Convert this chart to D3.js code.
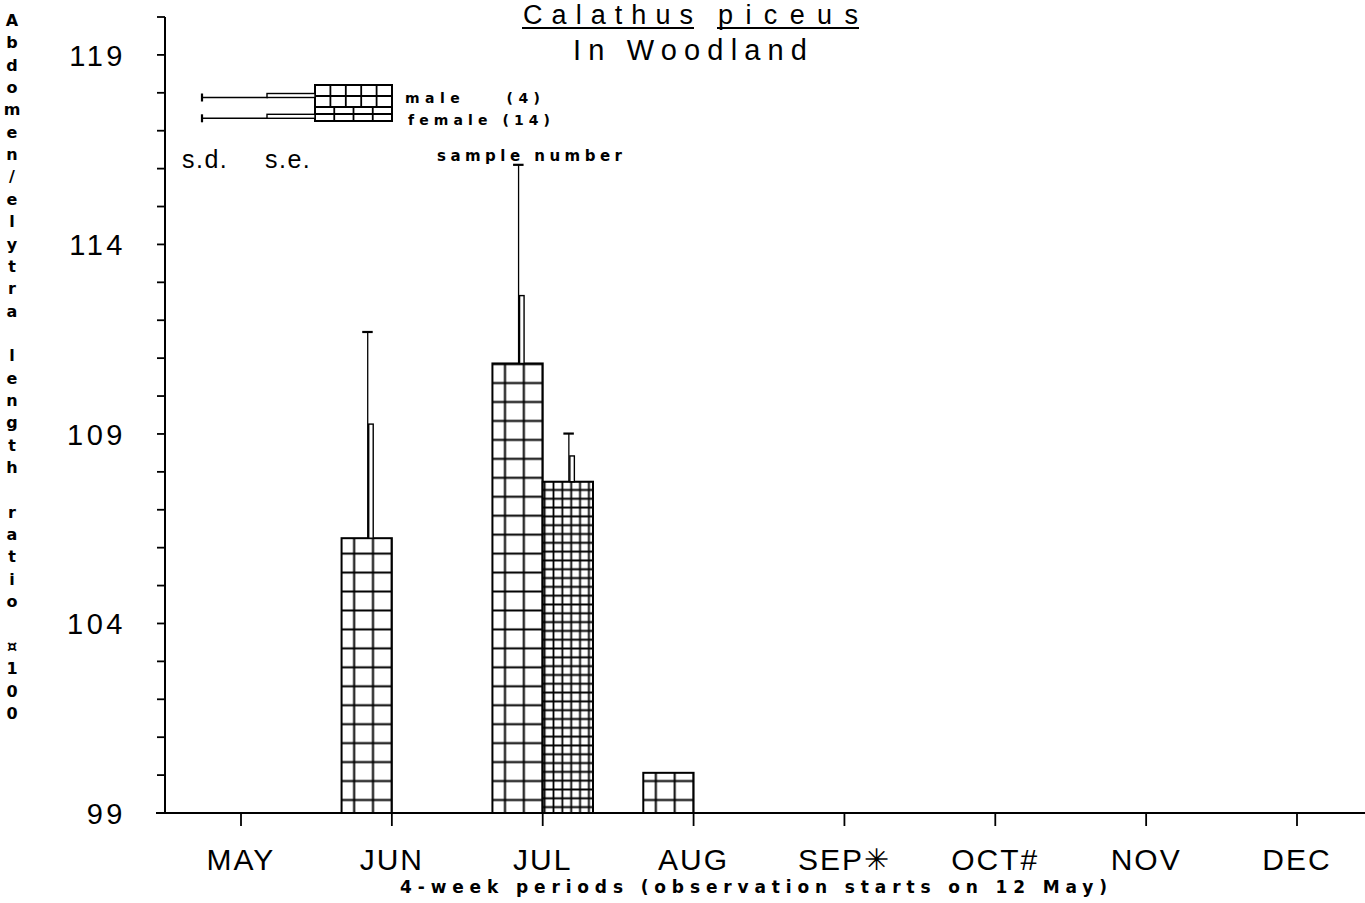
<!DOCTYPE html>
<html>
<head>
<meta charset="utf-8">
<script src="https://cdn.jsdelivr.net/npm/d3@7/dist/d3.min.js"></script>
<style>
  html, body { margin: 0; padding: 0; background: #fff; }
  svg { display: block; }
  text { fill: #000; }
</style>
</head>
<body>
<script>
// ---------- data ----------
const months = ["MAY", "JUN", "JUL", "AUG", "SEP\u2733", "OCT#", "NOV", "DEC"];
// coarse-grid bars (left of tick): female, sample 14
const femaleMean = [null, 106.25, 110.86, 100.06, null, null, null, null];
const femaleSE   = [null, 3.01, 1.79, null, null, null, null, null];
const femaleSD   = [null, 5.44, 5.24, null, null, null, null, null];
// fine-grid bars (right of tick): male, sample 4
const maleMean   = [null, null, 107.74, null, null, null, null, null];
const maleSE     = [null, null, 0.68, null, null, null, null, null];
const maleSD     = [null, null, 1.27, null, null, null, null, null];
const yTickValues = d3.range(99, 121);
const yTickLabels = [99, 104, 109, 114, 119];
const yAxisTitle = "Abdomen/elytra length ratio \u00A4100";
const titleLine1 = ["Calathus", "piceus"];
const titleLine2 = "In Woodland";
const xAxisTitle = "4-week periods (observation starts on 12 May)";
const legendItems = [
  { label: "male    (4)", pattern: "fine" },
  { label: "female (14)", pattern: "coarse" }
];

// ---------- layout ----------
const W = 1365, H = 903;
const svg = d3.select("body").append("svg").attr("width", W).attr("height", H);
svg.append("rect").attr("width", W).attr("height", H).attr("fill", "#fff");

const x = d3.scalePoint().domain(months).range([241, 1297]);
const y = d3.scaleLinear().domain([99, 120]).range([813, 17]);
const step = x.step();
const barW = step / 3;
const axisX = 165;

const bold = "'DejaVu Sans', 'Noto Sans', sans-serif";
const sans = "'Liberation Sans', Arial, sans-serif";

// ---------- patterns ----------
const defs = svg.append("defs");
function gridPattern(id, w, h, ox, oy, sw) {
  const p = defs.append("pattern").attr("id", id)
    .attr("patternUnits", "userSpaceOnUse")
    .attr("width", w).attr("height", h)
    .attr("x", ox - w / 2).attr("y", oy - h / 2);
  p.append("rect").attr("width", w).attr("height", h).attr("fill", "#fff");
  p.append("path")
    .attr("d", `M0,${h / 2}H${w}M${w / 2},0V${h}`)
    .attr("stroke", "#000").attr("stroke-width", sw).attr("fill", "none");
}
const coarseH = y(99) - y(99.5);
gridPattern("coarse", step / 8, coarseH, x.range()[0], y(99) - 13, 2);
gridPattern("fine", 8.85, 8.81, x.range()[0] + 2.75, y(99) - 14.7, 1.8);

// ---------- axes ----------
const g = svg.append("g");
// y axis
g.append("line").attr("x1", axisX).attr("x2", axisX)
  .attr("y1", y(120)).attr("y2", y(99))
  .attr("stroke", "#000").attr("stroke-width", 2);
g.selectAll(".ytick").data(yTickValues).join("line")
  .attr("x1", axisX - 8).attr("x2", axisX)
  .attr("y1", d => y(d)).attr("y2", d => y(d))
  .attr("stroke", "#000").attr("stroke-width", 1.8);
g.selectAll(".ylab").data(yTickLabels).join("text")
  .attr("x", 126).attr("y", d => y(d) + 11)
  .attr("text-anchor", "end")
  .attr("font-family", sans).attr("font-size", 29)
  .attr("letter-spacing", 3.5)
  .text(d => d);

// x axis
g.append("line").attr("x1", 156).attr("x2", W)
  .attr("y1", y(99)).attr("y2", y(99))
  .attr("stroke", "#000").attr("stroke-width", 2);
g.selectAll(".xtick").data(months).join("line")
  .attr("x1", d => x(d)).attr("x2", d => x(d))
  .attr("y1", y(99)).attr("y2", y(99) + 13)
  .attr("stroke", "#000").attr("stroke-width", 1.8);
g.selectAll(".xlab").data(months).join("text")
  .attr("x", d => x(d)).attr("y", 870)
  .attr("text-anchor", "middle")
  .attr("font-family", sans).attr("font-size", 30)
  .attr("letter-spacing", 2)
  .text(d => d);

// ---------- bars ----------
function drawSeries(means, ses, sds, side, pat) {
  const data = months.map((m, i) => ({ m, v: means[i], se: ses[i], sd: sds[i] }))
    .filter(d => d.v != null);
  const bx = d => side === "left" ? x(d.m) - barW : x(d.m);
  g.selectAll(null).data(data).join("rect")
    .attr("x", bx).attr("y", d => y(d.v))
    .attr("width", barW).attr("height", d => y(99) - y(d.v))
    .attr("fill", `url(#${pat})`)
    .attr("stroke", "#000").attr("stroke-width", 2);
  const eb = data.filter(d => d.sd != null);
  const cx = d => bx(d) + barW / 2;
  // s.d. line with cap
  g.selectAll(null).data(eb).join("line")
    .attr("x1", d => cx(d) + 1).attr("x2", d => cx(d) + 1)
    .attr("y1", d => y(d.v)).attr("y2", d => y(d.v + d.sd))
    .attr("stroke", "#000").attr("stroke-width", 1.3);
  g.selectAll(null).data(eb).join("line")
    .attr("x1", d => cx(d) - 4.5).attr("x2", d => cx(d) + 6)
    .attr("y1", d => y(d.v + d.sd)).attr("y2", d => y(d.v + d.sd))
    .attr("stroke", "#000").attr("stroke-width", 2.2);
  // s.e. narrow box
  g.selectAll(null).data(eb).join("rect")
    .attr("x", d => cx(d) + 2).attr("y", d => y(d.v + d.se))
    .attr("width", 4.5).attr("height", d => y(d.v) - y(d.v + d.se))
    .attr("fill", "#fff").attr("stroke", "#000").attr("stroke-width", 1.4);
}
drawSeries(femaleMean, femaleSE, femaleSD, "left", "coarse");
drawSeries(maleMean, maleSE, maleSD, "right", "fine");

// ---------- title ----------
const titleParts = [
  { text: titleLine1[0], x: 523, len: 170 },
  { text: titleLine1[1], x: 718, len: 140 }
];
titleParts.forEach(p => {
  svg.append("text").attr("x", p.x).attr("y", 24)
    .attr("font-family", sans).attr("font-size", 27)
    .attr("textLength", p.len).attr("lengthAdjust", "spacing")
    .text(p.text);
  svg.append("line").attr("x1", p.x - 1).attr("x2", p.x + p.len + 1)
    .attr("y1", 28).attr("y2", 28)
    .attr("stroke", "#000").attr("stroke-width", 1.8);
});
svg.append("text").attr("x", 573).attr("y", 60)
  .attr("font-family", sans).attr("font-size", 29)
  .attr("textLength", 234).attr("lengthAdjust", "spacing")
  .text(titleLine2);

// ---------- y axis title (stacked letters) ----------
svg.append("g").selectAll("text").data(Array.from(yAxisTitle)).join("text")
  .attr("x", 12).attr("y", (d, i) => 26 + i * 22.35)
  .attr("text-anchor", "middle")
  .attr("font-family", bold).attr("font-size", 16).attr("font-weight", "bold")
  .text(d => d);

// ---------- x axis title ----------
svg.append("text").attr("x", 400).attr("y", 893)
  .attr("font-family", bold).attr("font-size", 17).attr("font-weight", "bold")
  .attr("textLength", 707).attr("lengthAdjust", "spacing")
  .text(xAxisTitle);

// ---------- legend ----------
const lg = svg.append("g");
const lx0 = 315, lx1 = 392;
const rows = [
  { y0: 85, y1: 107, cols: 5, wy: 97.5, sey: 93.5, tx: 405, ty: 103, tl: 135 },
  { y0: 107, y1: 121, cols: 4, wy: 118.3, sey: 114.3, tx: 408, ty: 125, tl: 142 }
];
rows.forEach((r, i) => {
  lg.append("rect").attr("x", lx0).attr("y", r.y0)
    .attr("width", lx1 - lx0).attr("height", r.y1 - r.y0)
    .attr("fill", "#fff").attr("stroke", "#000").attr("stroke-width", 2);
  const cw = (lx1 - lx0) / r.cols;
  lg.selectAll(null).data(d3.range(1, r.cols)).join("line")
    .attr("x1", k => lx0 + k * cw).attr("x2", k => lx0 + k * cw)
    .attr("y1", r.y0).attr("y2", r.y1)
    .attr("stroke", "#000").attr("stroke-width", 1.8);
  lg.append("line").attr("x1", lx0).attr("x2", lx1)
    .attr("y1", (r.y0 + r.y1) / 2).attr("y2", (r.y0 + r.y1) / 2)
    .attr("stroke", "#000").attr("stroke-width", 1.8);
  // s.d. whisker
  lg.append("line").attr("x1", 202).attr("x2", 268).attr("y1", r.wy).attr("y2", r.wy)
    .attr("stroke", "#000").attr("stroke-width", 1.4);
  lg.append("line").attr("x1", 202).attr("x2", 202).attr("y1", r.wy - 4).attr("y2", r.wy + 4)
    .attr("stroke", "#000").attr("stroke-width", 2.2);
  // s.e. narrow box
  lg.append("rect").attr("x", 267).attr("y", r.sey).attr("width", lx0 - 267).attr("height", r.wy - r.sey)
    .attr("fill", "#fff").attr("stroke", "#000").attr("stroke-width", 1.4);
  lg.append("text").attr("x", r.tx).attr("y", r.ty)
    .attr("font-family", bold).attr("font-size", 14).attr("font-weight", "bold")
    .attr("textLength", r.tl).attr("lengthAdjust", "spacing")
    .style("white-space", "pre")
    .text(legendItems[i].label);
});
lg.append("text").attr("x", 182).attr("y", 168)
  .attr("font-family", sans).attr("font-size", 25).attr("letter-spacing", 1.5)
  .text("s.d.");
lg.append("text").attr("x", 265).attr("y", 168)
  .attr("font-family", sans).attr("font-size", 25).attr("letter-spacing", 1.5)
  .text("s.e.");
lg.append("text").attr("x", 437).attr("y", 161)
  .attr("font-family", bold).attr("font-size", 15).attr("font-weight", "bold")
  .attr("textLength", 185).attr("lengthAdjust", "spacing")
  .text("sample number");
</script>
</body>
</html>
